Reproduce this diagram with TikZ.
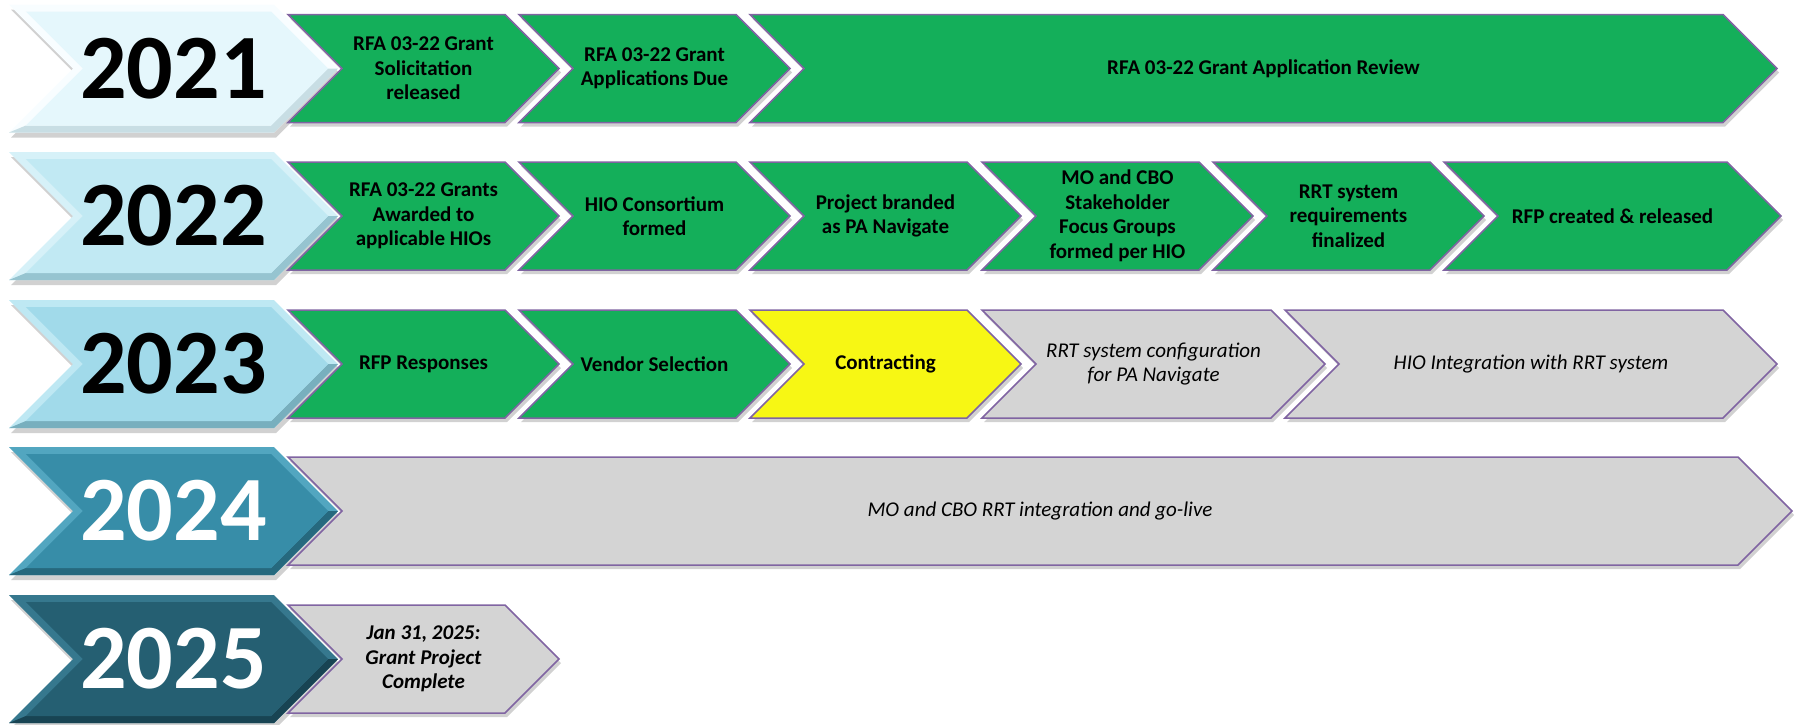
\documentclass[tikz,border=0pt]{standalone}
\usepackage{fontspec}
\setmainfont{Carlito}
\usepackage{xcolor}
\usepackage{tikz}

\definecolor{stepgreen}{RGB}{20,175,90}
\definecolor{stepyellow}{RGB}{247,247,20}
\definecolor{stepgray}{RGB}{212,212,212}
\definecolor{stepline}{RGB}{128,100,162}
% year arrows: light facet, dark facet, main face
\definecolor{y21light}{RGB}{248,253,255}
\definecolor{y21dark}{RGB}{200,222,228}
\definecolor{y21main}{RGB}{229,247,252}
\definecolor{y22light}{RGB}{214,241,248}
\definecolor{y22dark}{RGB}{150,196,208}
\definecolor{y22main}{RGB}{193,233,243}
\definecolor{y23light}{RGB}{190,232,243}
\definecolor{y23dark}{RGB}{120,175,190}
\definecolor{y23main}{RGB}{161,218,234}
\definecolor{y24light}{RGB}{82,166,192}
\definecolor{y24dark}{RGB}{38,105,126}
\definecolor{y24main}{RGB}{55,141,168}
\definecolor{y25light}{RGB}{54,120,142}
\definecolor{y25dark}{RGB}{24,68,83}
\definecolor{y25main}{RGB}{37,95,114}

\tikzset{
  stepbox/.style={draw=stepline, line width=1.5pt},
  greenbox/.style={stepbox, fill=stepgreen},
  yellowbox/.style={stepbox, fill=stepyellow},
  graybox/.style={stepbox, fill=stepgray},
  steptext/.style={align=center, font=\fontsize{21}{24.5}\selectfont\bfseries},
  plantext/.style={align=center, font=\fontsize{21}{24.5}\selectfont\itshape},
  endtext/.style={align=center, font=\fontsize{21}{24.5}\selectfont\bfseries\itshape},
  yeartext/.style={font=\fontsize{92}{92}\selectfont\bfseries},
  shade/.style={fill=black, opacity=0.18}
}

% chevron outline: left, corner, row centre, half height
\newcommand{\chevshape}[4]{(#1,#3-#4) -- (#2,#3-#4) -- (#2+#4,#3) -- (#2,#3+#4) -- (#1,#3+#4) -- (#1+#4,#3) -- cycle}

% one step: name, left, corner, row centre, box style, text style, text
\newcommand{\stepchev}[7]{%
  \fill[shade, xshift=2pt, yshift=-4pt] \chevshape{#2}{#3}{#4}{54};
  \draw[#5] \chevshape{#2}{#3}{#4}{54};
  \node[#6] (#1) at ({(#2+#3+54)/2},#4) {#7};
}

% year arrow: name, row centre, colour prefix, text colour, year
\newcommand{\yearchev}[5]{%
  \fill[shade, xshift=2pt, yshift=-5pt] \chevshape{9}{274}{#2}{64};
  \fill[#3light] \chevshape{9}{274}{#2}{64};
  \fill[#3dark] (9,#2+64) -- (274,#2+64) -- (338,#2) -- (328.1,#2) -- (271.1,#2+57) -- (25.9,#2+57) -- cycle;
  \fill[#3main] \chevshape{25.9}{271.1}{#2}{57};
  \node[yeartext, text=#4] (#1) at (173.5,#2) {#5};
}

\begin{document}
\begin{tikzpicture}[x=1pt, y=-1pt]
  \useasboundingbox (0,0) rectangle (1796,724);

  % 2021
  \yearchev{y21n}{68.5}{y21}{black}{2021}
  \stepchev{s21a}{288}{505}{68.5}{greenbox}{steptext}{RFA 03-22 Grant\\Solicitation\\released}
  \stepchev{s21b}{519}{736}{68.5}{greenbox}{steptext}{RFA 03-22 Grant\\Applications Due}
  \stepchev{s21c}{750}{1723}{68.5}{greenbox}{steptext}{RFA 03-22 Grant Application Review}

  % 2022
  \yearchev{y22n}{216}{y22}{black}{2022}
  \stepchev{s22a}{288}{505}{216}{greenbox}{steptext}{RFA 03-22 Grants\\Awarded to\\applicable HIOs}
  \stepchev{s22b}{519}{736}{216}{greenbox}{steptext}{HIO Consortium\\formed}
  \stepchev{s22c}{750}{967}{216}{greenbox}{steptext}{Project branded\\as PA Navigate}
  \stepchev{s22d}{982}{1199}{216}{greenbox}{steptext}{MO and CBO\\Stakeholder\\Focus Groups\\formed per HIO}
  \stepchev{s22e}{1213}{1430}{216}{greenbox}{steptext}{RRT system\\requirements\\finalized}
  \stepchev{s22f}{1444}{1727}{216}{greenbox}{steptext}{RFP created \& released}

  % 2023
  \yearchev{y23n}{364}{y23}{black}{2023}
  \stepchev{s23a}{288}{505}{364}{greenbox}{steptext}{RFP Responses}
  \stepchev{s23b}{519}{736}{364}{greenbox}{steptext}{Vendor Selection}
  \stepchev{s23c}{750}{967}{364}{yellowbox}{steptext}{Contracting}
  \stepchev{s23d}{982}{1271}{364}{graybox}{plantext}{RRT system configuration\\for PA Navigate}
  \stepchev{s23e}{1285}{1723}{364}{graybox}{plantext}{HIO Integration with RRT system}

  % 2024
  \yearchev{y24n}{511}{y24}{white}{2024}
  \stepchev{s24a}{288}{1738}{511}{graybox}{plantext}{MO and CBO RRT integration and go-live}

  % 2025
  \yearchev{y25n}{659}{y25}{white}{2025}
  \stepchev{s25a}{288}{505}{659}{graybox}{endtext}{Jan 31, 2025:\\Grant Project\\Complete}
\end{tikzpicture}
\end{document}
